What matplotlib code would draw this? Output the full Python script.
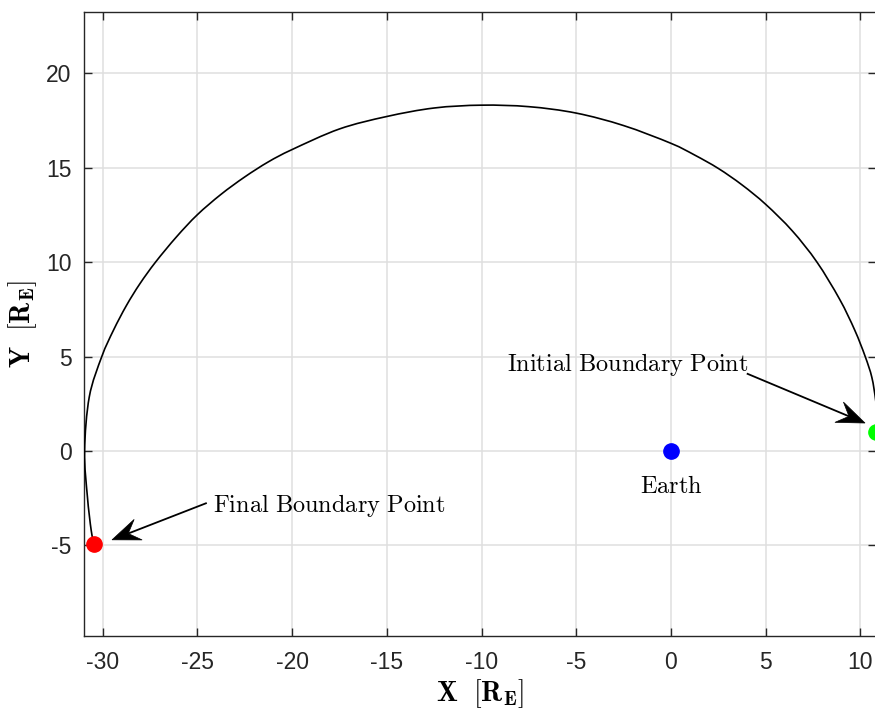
import numpy as np
import matplotlib
matplotlib.use("Agg")
import matplotlib.pyplot as plt
from matplotlib.patches import Polygon, PathPatch
from matplotlib.path import Path

# Boundary trace in the equatorial plane (Earth radii), from the initial to the final point
trace_x = [10.80, 10.88, 10.80, 10.60, 10.25, 9.70, 8.90, 7.70, 6.40, 5.00, 3.75, 2.50,
           1.25, 0.00, -2.50, -5.00, -7.50, -10.00, -12.50, -15.00, -17.50, -20.00,
           -21.25, -22.50, -23.75, -25.00, -26.10, -27.20, -28.03, -28.74, -29.42,
           -30.04, -30.70, -30.95, -30.80, -30.60, -30.45]
trace_y = [1.00, 1.80, 2.70, 3.90, 5.00, 6.39, 8.03, 10.00, 11.65, 13.05, 14.08, 14.95,
           15.66, 16.28, 17.22, 17.88, 18.22, 18.30, 18.15, 17.70, 17.04, 15.95,
           15.30, 14.50, 13.58, 12.50, 11.33, 10.00, 8.85, 7.70, 6.40,
           5.00, 2.87, 0.00, -2.42, -4.20, -4.90]

earth_xy = (0.0, 0.0)
initial_xy = (10.80, 1.00)
final_xy = (-30.45, -4.90)

x_ticks = [-30, -25, -20, -15, -10, -5, 0, 5, 10]
y_ticks = [-5, 0, 5, 10, 15, 20]

plt.rcParams["mathtext.fontset"] = "cm"
plt.rcParams["font.family"] = ["Liberation Sans", "DejaVu Sans"]
plt.rcParams["axes.unicode_minus"] = False

fig = plt.figure(figsize=(8.75, 7.10), dpi=100)
ax = fig.add_axes([84 / 875, 74 / 710, 792 / 875, 624 / 710])

dark = "#262626"
ax.set_xlim(-30.98, 10.82)
ax.set_ylim(-9.79, 23.23)
ax.set_xticks(x_ticks)
ax.set_yticks(y_ticks)
ax.grid(True, color="#dfdfdf", linewidth=1.1)
ax.set_axisbelow(True)
for side in ax.spines.values():
    side.set_color(dark)
    side.set_linewidth(1.0)
ax.tick_params(direction="in", length=6, width=1.0, color=dark, labelcolor=dark,
               labelsize=16.5, top=True, right=True)
ax.tick_params(axis="x", pad=11)
ax.tick_params(axis="y", pad=9)


def smooth_path(xs, ys):
    """Catmull-Rom curve through the given vertices, expressed as cubic Bezier segments."""
    p = np.column_stack([xs, ys])
    ext = np.vstack([p[0], p, p[-1]])
    verts = [p[0]]
    codes = [Path.MOVETO]
    for i in range(1, len(ext) - 2):
        p0, p1, p2, p3 = ext[i - 1], ext[i], ext[i + 1], ext[i + 2]
        verts += [p1 + (p2 - p0) / 6.0, p2 - (p3 - p1) / 6.0, p2]
        codes += [Path.CURVE4] * 3
    return Path(verts, codes)


ax.add_patch(PathPatch(smooth_path(trace_x, trace_y), facecolor="none",
                       edgecolor="black", linewidth=1.2, zorder=3))

ax.plot(*earth_xy, "o", color=(0, 0, 1), markersize=11, zorder=4)
ax.plot(*initial_xy, "o", color=(0, 1, 0), markersize=11, zorder=4)
ax.plot(*final_xy, "o", color=(1, 0, 0), markersize=11, zorder=4)

ax.set_xlabel(r"$\mathbf{X}\ \ [\mathbf{R_E}]$", fontsize=20)
ax.set_ylabel(r"$\mathbf{Y}\ \ [\mathbf{R_E}]$", fontsize=20)
ax.xaxis.set_label_coords(0.5, -0.066)
ax.yaxis.label.set_va("center")
ax.yaxis.set_label_coords(-0.077, 0.5)

ann_size = 17.5
ax.text(-8.65, 4.23, r"$\mathrm{Initial\ Boundary\ Point}$", fontsize=ann_size,
        ha="left", va="baseline", color="black")
ax.text(-24.17, -3.23, r"$\mathrm{Final\ Boundary\ Point}$", fontsize=ann_size,
        ha="left", va="baseline", color="black")
ax.text(0.0, -2.22, r"$\mathrm{Earth}$", fontsize=ann_size,
        ha="center", va="baseline", color="black")


def text_arrow(tail, tip, head_len=28, head_half=11, notch=0.62):
    """Shaft plus a swept-back filled head, sized in pixels."""
    to_px = ax.transData
    t = np.array(to_px.transform(tail))
    h = np.array(to_px.transform(tip))
    u = (h - t) / np.linalg.norm(h - t)
    n = np.array([-u[1], u[0]])
    base = h - u * head_len * notch
    b = to_px.inverted().transform(base)
    ax.plot([tail[0], b[0]], [tail[1], b[1]],
            color="black", linewidth=1.3, zorder=5, solid_capstyle="butt")
    pts = [h, h - u * head_len + n * head_half, base, h - u * head_len - n * head_half]
    pts = to_px.inverted().transform(np.array(pts))
    ax.add_patch(Polygon(pts, closed=True, facecolor="black", edgecolor="black",
                         linewidth=0.5, zorder=5))


text_arrow((4.00, 4.10), (10.24, 1.48))
text_arrow((-24.50, -2.75), (-29.50, -4.70))

fig.savefig("out.png", dpi=100)
